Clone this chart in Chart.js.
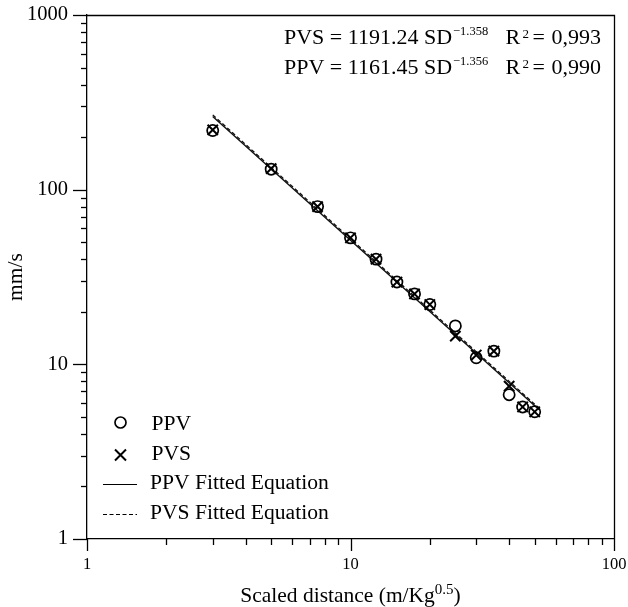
<!DOCTYPE html>
<html>
<head>
<meta charset="utf-8">
<script src="https://cdn.jsdelivr.net/npm/chart.js@4.4.1/dist/chart.umd.min.js"></script>
<style>
html, body { margin: 0; padding: 0; background: #fff; }
canvas { display: block; }
</style>
</head>
<body>
<canvas id="sdChart" width="628" height="607"></canvas>
<script>
// scaled distance (m/Kg^0.5) for each blast record
var scaledDistance = [3, 5, 7.5, 10, 12.5, 15, 17.5, 20, 25, 30, 35, 40, 45, 50];
var ppvValues = [218, 131, 80, 53, 40, 29.6, 25.3, 22, 16.6, 10.9, 11.9, 6.7, 5.7, 5.35];
var pvsValues = [220, 132, 80, 53, 40, 29.6, 25.3, 22, 14.5, 11.3, 11.9, 7.5, 5.7, 5.35];

// fitted lines, end points
var fitDistance = [3, 52];
var ppvFit = [262, 5.5];
var pvsFit = [268, 5.6];

var xTickLabels = ["1", "10", "100"];
var yTickLabels = ["1", "10", "100", "1000"];

var equations = [
    { main: "PVS = 1191.24 SD", exp: "\u22121.358", r2: "0,993" },
    { main: "PPV = 1161.45 SD", exp: "\u22121.356", r2: "0,990" }
];
var legendLabels = ["PPV", "PVS", "PPV Fitted Equation", "PVS Fitted Equation"];

var serif = '"Liberation Serif", "Times New Roman", serif';

function toPoints(xs, ys) {
    return xs.map(function (x, i) { return { x: x, y: ys[i] }; });
}

function isDecade(v) {
    var l = Math.log10(v);
    return Math.abs(l - Math.round(l)) < 1e-9;
}

// 1..9 in every decade between min and max
function logTicks(min, max) {
    var out = [];
    for (var d = min; d < max; d *= 10) {
        for (var k = 1; k < 10; k++) out.push({ value: d * k });
    }
    out.push({ value: max });
    return out;
}

function font(size) {
    return size + "px " + serif;
}

var annotatePlugin = {
    id: "annotate",
    afterDraw: function (chart) {
        var ctx = chart.ctx;
        var area = chart.chartArea;
        var xs = chart.scales.x;
        var ys = chart.scales.y;
        ctx.save();
        ctx.strokeStyle = "#000";
        ctx.fillStyle = "#000";
        ctx.lineWidth = 1.3;

        // top and right frame
        ctx.beginPath();
        ctx.moveTo(area.left, area.top + 0.5);
        ctx.lineTo(area.right + 0.5, area.top + 0.5);
        ctx.lineTo(area.right + 0.5, area.bottom);
        ctx.stroke();

        // outward tick marks, long ones at decades
        ys.ticks.forEach(function (t) {
            var py = Math.round(ys.getPixelForValue(t.value)) + 0.5;
            var len = isDecade(t.value) ? 14 : 6;
            ctx.beginPath();
            ctx.moveTo(area.left - len, py);
            ctx.lineTo(area.left, py);
            ctx.stroke();
        });
        xs.ticks.forEach(function (t) {
            var px = Math.round(xs.getPixelForValue(t.value)) + 0.5;
            var len = isDecade(t.value) ? 12 : 6;
            ctx.beginPath();
            ctx.moveTo(px, area.bottom);
            ctx.lineTo(px, area.bottom + len);
            ctx.stroke();
        });

        // equations, top right
        ctx.textAlign = "left";
        ctx.textBaseline = "alphabetic";
        equations.forEach(function (eq, i) {
            var base = 43.5 + i * 30;
            ctx.font = font(22);
            ctx.fillText(eq.main, 284, base);
            var x = 284 + ctx.measureText(eq.main).width + 1;
            ctx.font = font(12.5);
            ctx.fillText(eq.exp, x, base - 8.5);
            ctx.font = font(22);
            ctx.fillText("R", 505.5, base);
            ctx.font = font(13);
            ctx.fillText("2", 522.5, base - 5.5);
            ctx.font = font(22);
            ctx.fillText("=", 532.5, base);
            ctx.fillText(eq.r2, 551.5, base);
        });

        // legend, bottom left inside the plot
        ctx.font = font(21.6);
        ctx.lineWidth = 1.7;
        ctx.beginPath();
        ctx.arc(120.5, 422.5, 5.5, 0, Math.PI * 2);
        ctx.stroke();
        ctx.fillText(legendLabels[0], 151.5, 430);

        ctx.lineWidth = 2;
        ctx.beginPath();
        ctx.moveTo(115, 449.5); ctx.lineTo(126, 460.5);
        ctx.moveTo(126, 449.5); ctx.lineTo(115, 460.5);
        ctx.stroke();
        ctx.fillText(legendLabels[1], 151.5, 460);

        ctx.lineWidth = 1.2;
        ctx.beginPath();
        ctx.moveTo(103, 484.5); ctx.lineTo(137, 484.5);
        ctx.stroke();
        ctx.fillText(legendLabels[2], 150, 488.5);

        ctx.setLineDash([4, 2.5]);
        ctx.beginPath();
        ctx.moveTo(103, 514.5); ctx.lineTo(137, 514.5);
        ctx.stroke();
        ctx.setLineDash([]);
        ctx.fillText(legendLabels[3], 150, 519);

        // x axis title with superscript
        var cx = (area.left + area.right) / 2;
        var tBase = 601.5;
        ctx.font = font(21.5);
        var t1 = "Scaled distance (m/Kg";
        var w1 = ctx.measureText(t1).width;
        var w3 = ctx.measureText(")").width;
        ctx.font = font(15);
        var w2 = ctx.measureText("0.5").width;
        var sx = cx - (w1 + w2 + w3) / 2;
        ctx.font = font(21.5);
        ctx.fillText(t1, sx, tBase);
        ctx.font = font(15);
        ctx.fillText("0.5", sx + w1, tBase - 8);
        ctx.font = font(21.5);
        ctx.fillText(")", sx + w1 + w2, tBase);

        ctx.restore();
    }
};

new Chart(document.getElementById("sdChart").getContext("2d"), {
    type: "scatter",
    data: {
        datasets: [
            {
                label: legendLabels[0],
                data: toPoints(scaledDistance, ppvValues),
                pointStyle: "circle",
                pointRadius: 5.6,
                pointBorderWidth: 1.7,
                borderColor: "#000",
                backgroundColor: "rgba(0,0,0,0)"
            },
            {
                label: legendLabels[1],
                data: toPoints(scaledDistance, pvsValues),
                pointStyle: "crossRot",
                pointRadius: 7.3,
                pointBorderWidth: 2,
                borderColor: "#000",
                backgroundColor: "#000"
            },
            {
                label: legendLabels[2],
                data: toPoints(fitDistance, ppvFit),
                showLine: true,
                pointRadius: 0,
                borderWidth: 1.4,
                borderColor: "#111"
            },
            {
                label: legendLabels[3],
                data: toPoints(fitDistance, pvsFit),
                showLine: true,
                pointRadius: 0,
                borderWidth: 1.3,
                borderDash: [4, 2.5],
                borderColor: "#111"
            }
        ]
    },
    options: {
        responsive: false,
        animation: false,
        layout: { padding: { top: 15, right: 14, left: 0, bottom: 0 } },
        plugins: {
            legend: { display: false },
            tooltip: { enabled: false }
        },
        scales: {
            x: {
                type: "logarithmic",
                min: 1,
                max: 100,
                afterBuildTicks: function (scale) { scale.ticks = logTicks(1, 100); },
                afterFit: function (scale) {
                    scale.height = 68;
                    scale.paddingLeft = 0;
                    scale.paddingRight = 0;
                },
                grid: { drawOnChartArea: false, drawTicks: true, tickLength: 12, tickColor: "rgba(0,0,0,0)" },
                border: { display: true, color: "#000", width: 1.3 },
                ticks: {
                    autoSkip: false,
                    maxRotation: 0,
                    padding: 4,
                    color: "#000",
                    font: { family: serif, size: 16.5 },
                    callback: function (value) {
                        var s = String(value);
                        return xTickLabels.indexOf(s) >= 0 ? s : "";
                    }
                }
            },
            y: {
                type: "logarithmic",
                min: 1,
                max: 1000,
                afterBuildTicks: function (scale) { scale.ticks = logTicks(1, 1000); },
                afterFit: function (scale) {
                    scale.width = 87;
                    scale.paddingTop = 0;
                    scale.paddingBottom = 0;
                },
                grid: { drawOnChartArea: false, drawTicks: true, tickLength: 14, tickColor: "rgba(0,0,0,0)" },
                border: { display: true, color: "#000", width: 1.3 },
                title: {
                    display: true,
                    text: "mm/s",
                    color: "#000",
                    font: { family: serif, size: 21.5 },
                    padding: { top: 3, bottom: 0 }
                },
                ticks: {
                    autoSkip: false,
                    padding: 5,
                    color: "#000",
                    font: { family: serif, size: 20.5 },
                    callback: function (value) {
                        var s = String(value);
                        return yTickLabels.indexOf(s) >= 0 ? s : "";
                    }
                }
            }
        }
    },
    plugins: [annotatePlugin]
});
</script>
</body>
</html>
